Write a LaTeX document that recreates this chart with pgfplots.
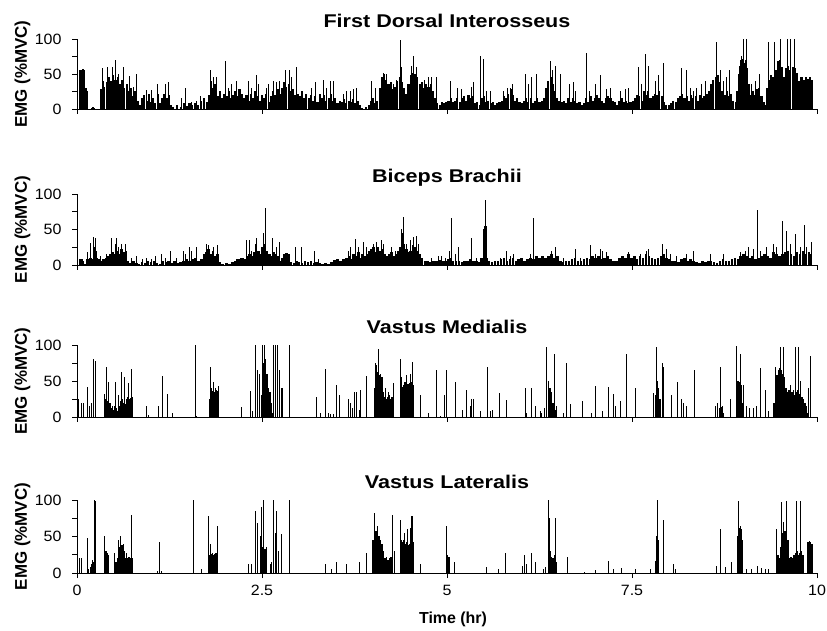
\documentclass[border=0pt]{standalone}
\usepackage{pgfplots}
\pgfplotsset{compat=1.18}
\usepackage{fontspec}
\setmainfont{Liberation Sans}[FakeStretch=1.07]
\newfontfamily\titlefont{Liberation Sans}[FakeStretch=1.17]
\newfontfamily\labelfont{Liberation Sans}

\pgfplotsset{
  emg/.style={
    scale only axis, width=740bp,
    xmin=0, xmax=10, ymin=0, ymax=100,
    axis x line*=bottom, axis y line*=left,
    axis line style={black, line width=0.8bp},
    tick style={black, line width=0.8bp},
    tick align=outside, major tick length=5bp,
    ytick={0,25,50,75,100}, yticklabels={0,,50,,100},
    xtick={0,2.5,5,7.5,10}, xticklabels={},
    ticklabel style={font=\fontsize{15}{17}\selectfont},
    yticklabel style={xshift=-7bp},
    ylabel={EMG (\%MVC)},
    % the label is turned by 90 degrees, so its own y direction points left
    ylabel style={font=\labelfont\fontsize{17}{20}\selectfont\bfseries,
      at={(axis description cs:0,0.5)}, anchor=base, yshift=50bp},
    title style={font=\titlefont\fontsize{18.5}{22}\selectfont\bfseries,
      at={(axis description cs:0.5,1)}, anchor=base, yshift=6bp},
    anchor=south west,
  },
  body/.style={ycomb, black, line width=#1, no marks},
  body/.default=1.5bp,
  spike/.style={ycomb, black, line width=0.8bp, no marks},
}

\begin{document}
\begin{tikzpicture}
\path[use as bounding box] (0,0) rectangle (827bp,631bp);

% ---------------- First Dorsal Interosseus ----------------
\begin{axis}[emg, at={(77bp,522bp)}, height=70bp, title={First Dorsal Interosseus}]
\addplot[body=2.1bp] table[row sep=\\] {
0.00 0\\ 0.03 0\\ 0.035 56\\ 0.05 50\\ 0.06 52\\ 0.07 55\\ 0.08 57\\ 0.09 50\\ 0.10 55\\ 0.115 30\\ 0.135 25\\ 0.14 2\\ 0.20 1\\ 0.22 3\\ 0.23 1\\ 0.32 1\\
0.33 28\\ 0.35 40\\ 0.37 32\\ 0.40 38\\ 0.43 45\\ 0.46 40\\ 0.49 48\\ 0.52 42\\ 0.55 45\\ 0.58 35\\ 0.61 42\\ 0.64 30\\ 0.67 36\\
0.70 25\\ 0.73 30\\ 0.76 18\\ 0.79 26\\ 0.82 12\\ 0.85 6\\ 0.88 15\\ 0.91 20\\ 0.94 12\\ 0.97 22\\ 1.00 10\\ 1.03 15\\ 1.06 8\\
1.09 22\\ 1.12 8\\ 1.15 15\\ 1.18 22\\ 1.21 15\\ 1.24 20\\ 1.27 6\\ 1.30 3\\ 1.35 5\\ 1.40 3\\ 1.44 8\\ 1.48 4\\ 1.52 8\\ 1.56 5\\
1.60 8\\ 1.64 6\\ 1.68 12\\ 1.72 15\\ 1.76 10\\ 1.79 20\\ 1.81 40\\ 1.84 30\\ 1.87 35\\ 1.90 18\\ 1.93 25\\ 1.96 15\\ 1.99 22\\
2.02 18\\ 2.05 25\\ 2.08 15\\ 2.11 20\\ 2.14 25\\ 2.17 18\\ 2.20 28\\ 2.23 22\\ 2.26 15\\ 2.29 20\\ 2.32 12\\ 2.35 22\\ 2.38 15\\
2.41 25\\ 2.44 18\\ 2.47 12\\ 2.50 20\\ 2.53 15\\ 2.56 22\\ 2.59 10\\ 2.62 18\\ 2.65 25\\ 2.68 20\\ 2.71 28\\ 2.74 22\\ 2.77 30\\
2.80 38\\ 2.83 32\\ 2.86 35\\ 2.89 25\\ 2.92 28\\ 2.95 20\\ 2.98 22\\ 3.01 18\\ 3.04 25\\ 3.07 15\\ 3.10 22\\ 3.13 15\\ 3.16 20\\
3.19 12\\ 3.22 18\\ 3.25 10\\ 3.28 22\\ 3.31 15\\ 3.34 20\\ 3.37 12\\ 3.40 15\\ 3.43 22\\ 3.46 12\\ 3.49 15\\ 3.52 8\\ 3.55 12\\
3.58 10\\ 3.61 14\\ 3.64 8\\ 3.67 12\\ 3.70 10\\ 3.73 14\\ 3.76 8\\ 3.79 12\\ 3.82 6\\ 3.85 2\\ 3.90 3\\ 3.94 6\\ 3.97 12\\
4.00 15\\ 4.03 8\\ 4.06 12\\ 4.09 30\\ 4.12 45\\ 4.15 50\\ 4.18 42\\ 4.21 35\\ 4.24 38\\ 4.27 28\\ 4.30 32\\ 4.33 40\\ 4.36 45\\
4.39 38\\ 4.42 30\\ 4.45 22\\ 4.48 35\\ 4.51 48\\ 4.54 52\\ 4.57 50\\ 4.60 45\\ 4.63 35\\ 4.66 38\\ 4.69 30\\ 4.72 36\\ 4.75 32\\
4.78 35\\ 4.81 25\\ 4.84 15\\ 4.87 8\\ 4.90 6\\ 4.93 10\\ 4.96 8\\ 4.99 10\\ 5.02 12\\ 5.05 15\\ 5.08 10\\ 5.11 12\\ 5.14 15\\
5.17 10\\ 5.20 15\\ 5.23 18\\ 5.26 12\\ 5.29 20\\ 5.32 15\\ 5.35 18\\ 5.38 8\\ 5.41 10\\ 5.44 6\\ 5.47 15\\ 5.50 18\\ 5.53 10\\
5.56 12\\ 5.59 8\\ 5.62 10\\ 5.65 6\\ 5.68 8\\ 5.71 10\\ 5.74 12\\ 5.77 18\\ 5.80 15\\ 5.83 22\\ 5.86 28\\ 5.89 20\\ 5.92 12\\
5.95 15\\ 5.98 10\\ 6.01 8\\ 6.04 12\\ 6.07 15\\ 6.10 10\\ 6.13 15\\ 6.16 8\\ 6.19 12\\ 6.22 15\\ 6.25 10\\ 6.28 12\\ 6.31 15\\
6.34 30\\ 6.37 40\\ 6.40 45\\ 6.43 35\\ 6.46 25\\ 6.49 15\\ 6.52 12\\ 6.55 10\\ 6.58 12\\ 6.61 8\\ 6.64 15\\ 6.67 10\\ 6.70 15\\
6.73 12\\ 6.76 8\\ 6.79 10\\ 6.82 6\\ 6.85 8\\ 6.88 15\\ 6.91 10\\ 6.94 18\\ 6.97 12\\ 7.00 15\\ 7.03 20\\ 7.06 15\\ 7.09 12\\
7.12 8\\ 7.15 15\\ 7.18 18\\ 7.21 15\\ 7.24 12\\ 7.27 10\\ 7.30 6\\ 7.33 12\\ 7.36 15\\ 7.39 10\\ 7.42 12\\ 7.45 8\\ 7.48 10\\
7.51 12\\ 7.54 15\\ 7.57 20\\ 7.60 18\\ 7.63 12\\ 7.66 25\\ 7.69 20\\ 7.72 25\\ 7.75 15\\ 7.78 18\\ 7.81 22\\ 7.84 20\\ 7.87 25\\
7.90 18\\ 7.93 10\\ 7.96 6\\ 8.00 5\\ 8.03 8\\ 8.06 12\\ 8.09 10\\ 8.12 15\\ 8.15 18\\ 8.18 22\\ 8.21 15\\ 8.24 18\\ 8.27 12\\
8.30 20\\ 8.33 15\\ 8.36 18\\ 8.39 12\\ 8.42 20\\ 8.45 15\\ 8.48 18\\ 8.51 22\\ 8.54 25\\ 8.57 35\\ 8.60 42\\ 8.63 45\\ 8.66 48\\
8.69 38\\ 8.72 25\\ 8.75 20\\ 8.78 25\\ 8.81 18\\ 8.84 22\\ 8.87 12\\ 8.90 10\\ 8.92 25\\ 8.94 50\\ 8.96 62\\ 8.98 70\\ 9.00 72\\
9.02 65\\ 9.04 70\\ 9.06 58\\ 9.08 35\\ 9.10 20\\ 9.13 25\\ 9.16 20\\ 9.19 28\\ 9.22 30\\ 9.25 18\\ 9.28 10\\ 9.30 6\\ 9.32 30\\
9.35 42\\ 9.38 48\\ 9.41 45\\ 9.44 55\\ 9.47 68\\ 9.50 70\\ 9.52 60\\ 9.54 25\\ 9.56 45\\ 9.58 58\\ 9.61 62\\ 9.64 55\\ 9.67 60\\
9.70 58\\ 9.73 52\\ 9.76 40\\ 9.79 45\\ 9.82 42\\ 9.85 46\\ 9.88 43\\ 9.91 45\\ 9.93 42\\ 9.94 0\\
};
\addplot[spike] table[row sep=\\] {
0.347 58\\ 0.414 60\\ 0.482 60\\ 0.523 70\\ 0.559 50\\ 0.626 60\\ 0.707 47\\ 0.761 32\\ 0.806 50\\ 0.941 27\\ 1.009 27\\
1.086 35\\ 1.189 36\\ 1.234 38\\ 1.414 15\\ 1.464 30\\ 1.550 10\\ 1.617 12\\ 1.662 18\\ 1.806 55\\ 1.842 45\\ 1.887 45\\
2.009 68\\ 2.045 30\\ 2.090 35\\ 2.149 40\\ 2.180 28\\ 2.315 40\\ 2.360 30\\ 2.428 48\\ 2.450 35\\ 2.563 30\\ 2.586 35\\
2.653 40\\ 2.698 38\\ 2.734 40\\ 2.811 55\\ 2.869 55\\ 2.901 45\\ 2.968 60\\ 3.171 30\\ 3.216 38\\ 3.329 42\\ 3.374 30\\
3.419 40\\ 3.464 40\\ 3.599 22\\ 3.644 25\\ 3.689 26\\ 3.734 28\\ 3.779 30\\ 3.982 40\\ 4.027 30\\ 4.140 52\\ 4.185 50\\
4.275 35\\ 4.320 42\\ 4.365 98\\ 4.390 60\\ 4.523 62\\ 4.545 76\\ 4.590 60\\ 4.700 42\\ 4.750 45\\ 4.790 45\\ 4.850 45\\
5.050 40\\ 5.140 30\\ 5.200 28\\ 5.330 32\\ 5.360 38\\ 5.455 75\\ 5.490 72\\ 5.530 25\\ 5.590 25\\ 5.760 25\\ 5.810 30\\
5.850 30\\ 5.890 35\\ 6.054 50\\ 6.100 35\\ 6.140 45\\ 6.210 50\\ 6.400 68\\ 6.420 55\\ 6.460 62\\ 6.530 50\\ 6.660 35\\
6.710 38\\ 6.730 25\\ 6.887 80\\ 6.930 25\\ 7.000 35\\ 7.070 48\\ 7.160 28\\ 7.210 30\\ 7.340 25\\ 7.410 28\\ 7.450 30\\
7.586 60\\ 7.630 35\\ 7.676 78\\ 7.720 62\\ 7.810 40\\ 7.860 48\\ 7.920 65\\ 8.170 58\\ 8.230 55\\ 8.290 30\\ 8.330 25\\
8.370 30\\ 8.440 35\\ 8.490 40\\ 8.645 95\\ 8.690 55\\ 8.730 40\\ 8.780 45\\ 8.820 55\\ 8.980 75\\ 9.005 100\\ 9.040 100\\
9.120 35\\ 9.170 40\\ 9.220 50\\ 9.340 95\\ 9.430 95\\ 9.500 100\\ 9.600 100\\ 9.635 100\\ 9.670 60\\ 9.700 100\\
};
\end{axis}

% ---------------- Biceps Brachii ----------------
\begin{axis}[emg, at={(77bp,366bp)}, height=71bp, title={Biceps Brachii}]
\addplot[body=2.6bp] table[row sep=\\] {
0.00 0\\ 0.03 0\\ 0.04 8\\ 0.06 9\\ 0.08 6\\ 0.10 1\\ 0.13 1\\ 0.14 8\\ 0.16 6\\ 0.18 10\\ 0.21 8\\ 0.23 25\\ 0.25 18\\ 0.27 10\\ 0.30 8\\
0.33 6\\ 0.36 8\\ 0.39 10\\ 0.42 12\\ 0.45 15\\ 0.48 18\\ 0.51 15\\ 0.54 20\\ 0.57 15\\ 0.60 22\\ 0.63 18\\ 0.66 20\\ 0.68 5\\
0.72 3\\ 0.76 5\\ 0.80 3\\ 0.84 2\\ 0.88 4\\ 0.92 3\\ 0.96 5\\ 1.00 4\\ 1.04 6\\ 1.08 3\\ 1.12 2\\ 1.16 5\\ 1.20 4\\ 1.24 6\\
1.28 3\\ 1.32 5\\ 1.36 3\\ 1.40 4\\ 1.44 6\\ 1.48 8\\ 1.52 5\\ 1.56 8\\ 1.60 10\\ 1.64 6\\ 1.68 8\\ 1.72 15\\ 1.75 18\\ 1.78 22\\
1.81 15\\ 1.84 20\\ 1.87 12\\ 1.90 15\\ 1.93 4\\ 1.97 2\\ 2.02 3\\ 2.06 2\\ 2.10 4\\ 2.14 6\\ 2.18 8\\ 2.22 10\\ 2.26 8\\ 2.30 12\\
2.33 15\\ 2.36 12\\ 2.39 18\\ 2.42 22\\ 2.45 20\\ 2.48 15\\ 2.51 25\\ 2.54 30\\ 2.57 20\\ 2.60 15\\ 2.63 12\\ 2.66 18\\ 2.69 15\\
2.72 12\\ 2.75 6\\ 2.78 10\\ 2.80 15\\ 2.83 17\\ 2.86 16\\ 2.89 4\\ 2.93 3\\ 2.97 5\\ 3.00 4\\ 3.04 3\\ 3.08 5\\ 3.12 4\\ 3.16 6\\
3.20 3\\ 3.24 4\\ 3.28 3\\ 3.32 2\\ 3.36 3\\ 3.40 2\\ 3.44 4\\ 3.48 7\\ 3.52 8\\ 3.56 6\\ 3.60 8\\ 3.64 10\\ 3.68 12\\ 3.71 8\\
3.74 15\\ 3.77 12\\ 3.80 18\\ 3.83 10\\ 3.86 15\\ 3.89 12\\ 3.92 16\\ 3.95 20\\ 3.98 22\\ 4.01 25\\ 4.04 18\\ 4.07 25\\ 4.10 20\\
4.13 22\\ 4.16 15\\ 4.19 12\\ 4.22 15\\ 4.25 18\\ 4.28 12\\ 4.31 15\\ 4.34 20\\ 4.37 25\\ 4.40 45\\ 4.42 30\\ 4.45 22\\ 4.48 18\\
4.51 20\\ 4.54 28\\ 4.57 25\\ 4.60 20\\ 4.63 15\\ 4.66 10\\ 4.70 5\\ 4.74 6\\ 4.78 4\\ 4.82 6\\ 4.86 5\\ 4.90 7\\ 4.94 5\\ 4.98 6\\
5.02 8\\ 5.05 10\\ 5.08 6\\ 5.12 5\\ 5.16 6\\ 5.20 4\\ 5.24 5\\ 5.28 6\\ 5.32 8\\ 5.36 5\\ 5.40 6\\ 5.44 4\\ 5.47 10\\ 5.50 50\\
5.52 55\\ 5.54 10\\ 5.57 5\\ 5.61 4\\ 5.65 5\\ 5.69 6\\ 5.73 8\\ 5.77 10\\ 5.81 6\\ 5.85 8\\ 5.89 10\\ 5.93 6\\ 5.97 8\\ 6.01 10\\
6.05 6\\ 6.09 8\\ 6.13 10\\ 6.17 8\\ 6.21 12\\ 6.25 10\\ 6.29 12\\ 6.33 10\\ 6.37 12\\ 6.41 15\\ 6.45 10\\ 6.49 12\\ 6.53 6\\
6.57 4\\ 6.61 5\\ 6.65 6\\ 6.69 8\\ 6.73 10\\ 6.77 6\\ 6.81 5\\ 6.85 8\\ 6.89 10\\ 6.93 8\\ 6.97 12\\ 7.01 10\\ 7.05 12\\ 7.09 8\\
7.13 10\\ 7.17 12\\ 7.21 8\\ 7.25 6\\ 7.29 5\\ 7.33 10\\ 7.37 12\\ 7.41 10\\ 7.45 15\\ 7.49 10\\ 7.53 12\\ 7.57 8\\ 7.61 12\\
7.65 10\\ 7.69 15\\ 7.73 12\\ 7.77 10\\ 7.81 8\\ 7.85 10\\ 7.89 12\\ 7.93 15\\ 7.97 10\\ 8.01 8\\ 8.05 5\\ 8.09 6\\ 8.13 4\\
8.17 8\\ 8.21 10\\ 8.25 6\\ 8.29 8\\ 8.33 6\\ 8.37 4\\ 8.41 3\\ 8.45 5\\ 8.49 4\\ 8.53 6\\ 8.57 5\\ 8.61 4\\ 8.65 3\\ 8.69 5\\
8.73 8\\ 8.77 6\\ 8.81 5\\ 8.85 8\\ 8.89 10\\ 8.93 8\\ 8.97 12\\ 9.01 15\\ 9.05 12\\ 9.09 10\\ 9.13 12\\ 9.17 8\\ 9.21 10\\
9.25 12\\ 9.29 15\\ 9.33 12\\ 9.37 10\\ 9.41 18\\ 9.45 15\\ 9.49 12\\ 9.53 15\\ 9.57 18\\ 9.61 20\\ 9.65 15\\ 9.69 12\\ 9.73 18\\
9.77 15\\ 9.81 20\\ 9.85 15\\ 9.89 18\\ 9.92 15\\ 9.94 0\\
};
\addplot[spike] table[row sep=\\] {
0.140 19\\ 0.176 31\\ 0.221 40\\ 0.250 38\\ 0.266 20\\ 0.311 12\\ 0.401 15\\ 0.468 38\\ 0.514 30\\ 0.536 38\\ 0.559 25\\
0.604 30\\ 0.649 30\\ 0.739 10\\ 0.797 12\\ 0.887 8\\ 0.941 10\\ 1.009 8\\ 1.054 12\\ 1.144 15\\ 1.189 10\\ 1.257 20\\
1.347 10\\ 1.437 20\\ 1.459 15\\ 1.518 25\\ 1.550 20\\ 1.608 25\\ 1.752 30\\ 1.775 28\\ 1.842 25\\ 1.896 28\\ 2.158 8\\
2.248 10\\ 2.284 35\\ 2.329 35\\ 2.360 20\\ 2.405 30\\ 2.428 38\\ 2.518 45\\ 2.541 80\\ 2.644 38\\ 2.689 25\\ 2.734 32\\
2.946 25\\ 3.036 25\\ 3.203 20\\ 3.261 8\\ 3.667 20\\ 3.689 25\\ 3.757 36\\ 3.802 25\\ 3.869 33\\ 3.914 25\\ 4.005 30\\
4.050 33\\ 4.117 35\\ 4.140 30\\ 4.252 25\\ 4.297 20\\ 4.387 50\\ 4.410 67\\ 4.455 30\\ 4.500 35\\ 4.545 40\\ 4.581 41\\
4.613 30\\ 4.793 10\\ 4.883 12\\ 4.928 12\\ 4.973 10\\ 5.032 20\\ 5.063 66\\ 5.108 15\\ 5.153 25\\ 5.324 38\\ 5.401 10\\
5.514 91\\ 5.527 40\\ 5.716 10\\ 5.806 20\\ 5.851 12\\ 5.896 15\\ 6.122 15\\ 6.167 66\\ 6.212 12\\ 6.415 20\\ 6.459 25\\
6.572 10\\ 6.730 22\\ 6.797 10\\ 6.942 28\\ 7.000 15\\ 7.068 22\\ 7.099 20\\ 7.158 18\\ 7.451 18\\ 7.608 15\\ 7.698 20\\
7.721 22\\ 7.915 30\\ 7.969 22\\ 8.014 15\\ 8.104 12\\ 8.239 15\\ 8.329 20\\ 8.554 15\\ 8.734 15\\ 8.959 18\\ 9.027 20\\
9.072 25\\ 9.140 22\\ 9.194 77\\ 9.230 20\\ 9.320 25\\ 9.410 30\\ 9.455 25\\ 9.536 62\\ 9.590 48\\ 9.635 30\\ 9.703 43\\
9.770 25\\ 9.824 57\\ 9.860 25\\ 9.928 33\\
};
\end{axis}

% ---------------- Vastus Medialis ----------------
\begin{axis}[emg, at={(77bp,214bp)}, height=72bp, title={Vastus Medialis}]
\addplot[body] table[row sep=\\] {
0.00 0\\ 0.36 0\\ 0.37 12\\ 0.39 25\\ 0.41 22\\ 0.43 20\\ 0.45 18\\ 0.47 12\\ 0.49 10\\ 0.51 15\\ 0.53 12\\ 0.55 8\\ 0.57 15\\
0.59 22\\ 0.61 25\\ 0.63 20\\ 0.65 18\\ 0.67 25\\ 0.69 28\\ 0.71 25\\ 0.73 27\\ 0.75 20\\ 0.76 0\\ 1.79 0\\ 1.80 25\\ 1.82 40\\
1.84 36\\ 1.85 35\\ 1.87 40\\ 1.88 38\\ 1.90 36\\ 1.91 35\\ 1.92 0\\ 2.48 0\\ 2.49 30\\ 2.51 55\\ 2.53 75\\ 2.55 70\\ 2.57 60\\ 2.59 40\\ 2.61 35\\ 2.63 20\\
2.65 5\\ 2.66 0\\ 4.01 0\\ 4.02 40\\ 4.04 65\\ 4.06 62\\ 4.08 58\\ 4.10 60\\ 4.12 55\\ 4.14 35\\ 4.16 28\\ 4.18 25\\ 4.20 28\\
4.22 30\\ 4.24 25\\ 4.26 28\\ 4.28 5\\ 4.36 0\\ 4.37 35\\ 4.39 42\\ 4.41 45\\ 4.43 48\\ 4.45 45\\ 4.47 46\\ 4.49 47\\ 4.51 50\\
4.53 48\\ 4.55 45\\ 4.57 0\\ 6.36 0\\ 6.37 20\\ 6.39 40\\ 6.41 35\\ 6.43 20\\ 6.45 25\\ 6.47 10\\ 6.48 0\\ 7.81 0\\ 7.82 30\\
7.84 50\\ 7.86 40\\ 7.88 25\\ 7.89 0\\ 8.67 0\\ 8.68 12\\ 8.70 14\\ 8.72 15\\ 8.73 0\\ 8.90 0\\ 8.91 40\\ 8.93 50\\ 8.95 48\\ 8.97 45\\
8.99 20\\ 9.00 0\\ 9.40 0\\ 9.42 20\\ 9.44 40\\ 9.46 58\\ 9.48 65\\ 9.50 68\\ 9.52 65\\ 9.54 60\\ 9.56 55\\ 9.58 40\\ 9.60 35\\
9.62 38\\ 9.64 32\\ 9.66 35\\ 9.68 38\\ 9.70 30\\ 9.72 35\\ 9.74 38\\ 9.76 32\\ 9.78 30\\ 9.80 28\\ 9.82 25\\ 9.84 20\\ 9.86 15\\
9.88 5\\ 9.90 0\\ 9.94 0\\
};
\addplot[spike] table[row sep=\\] {
0.018 25\\ 0.054 20\\ 0.090 20\\ 0.140 42\\ 0.167 15\\ 0.198 20\\ 0.221 81\\ 0.243 78\\ 0.369 32\\ 0.392 70\\ 0.423 48\\
0.446 20\\ 0.482 15\\ 0.514 48\\ 0.536 10\\ 0.559 30\\ 0.604 62\\ 0.635 55\\ 0.662 10\\ 0.694 47\\ 0.730 67\\ 0.748 28\\
0.941 15\\ 0.964 3\\ 1.099 15\\ 1.158 57\\ 1.225 32\\ 1.288 5\\ 1.595 100\\ 1.617 2\\ 1.797 70\\ 1.842 48\\ 1.910 43\\
2.225 14\\ 2.347 36\\ 2.369 8\\ 2.405 100\\ 2.437 65\\ 2.464 60\\ 2.509 100\\ 2.532 100\\ 2.550 80\\ 2.653 100\\ 2.676 100\\
2.707 100\\ 2.734 65\\ 2.757 40\\ 2.779 40\\ 2.869 100\\ 3.230 28\\ 3.284 5\\ 3.351 67\\ 3.396 5\\ 3.428 4\\ 3.464 4\\
3.509 45\\ 3.545 30\\ 3.667 25\\ 3.689 20\\ 3.725 12\\ 3.743 35\\ 3.779 35\\ 3.815 10\\ 3.833 37\\ 3.905 57\\ 4.027 75\\
4.041 72\\ 4.072 94\\ 4.162 40\\ 4.207 35\\ 4.275 47\\ 4.365 80\\ 4.387 55\\ 4.455 58\\ 4.500 60\\ 4.536 77\\ 4.644 30\\
4.748 5\\ 4.860 65\\ 4.905 2\\ 4.959 30\\ 4.996 65\\ 5.108 48\\ 5.212 10\\ 5.266 38\\ 5.311 15\\ 5.333 25\\ 5.356 25\\
5.446 8\\ 5.545 70\\ 5.581 8\\ 5.617 10\\ 5.707 33\\ 5.797 23\\ 6.054 40\\ 6.077 5\\ 6.144 40\\ 6.189 15\\ 6.257 8\\
6.279 5\\ 6.315 12\\ 6.347 97\\ 6.369 50\\ 6.415 20\\ 6.446 88\\ 6.473 15\\ 6.572 5\\ 6.617 75\\ 6.671 18\\ 6.833 22\\
6.955 5\\ 7.000 43\\ 7.104 8\\ 7.180 42\\ 7.248 32\\ 7.270 15\\ 7.338 22\\ 7.419 87\\ 7.541 40\\ 7.788 33\\ 7.824 97\\
7.847 45\\ 7.905 75\\ 7.923 70\\ 8.036 30\\ 8.113 48\\ 8.171 25\\ 8.194 20\\ 8.239 15\\ 8.338 65\\ 8.622 15\\ 8.653 20\\
8.689 70\\ 8.734 5\\ 8.833 25\\ 8.915 98\\ 8.968 88\\ 9.005 45\\ 9.050 15\\ 9.086 12\\ 9.140 12\\ 9.185 15\\ 9.230 68\\
9.297 37\\ 9.342 8\\ 9.432 70\\ 9.500 97\\ 9.545 97\\ 9.635 45\\ 9.703 97\\ 9.748 97\\ 9.770 50\\ 9.883 40\\ 9.905 85\\
};
\end{axis}

% ---------------- Vastus Lateralis ----------------
\begin{axis}[emg, at={(77bp,58bp)}, height=73bp, title={Vastus Lateralis},
  xticklabels={0,2.5,5,7.5,10},
  xticklabel style={anchor=base, yshift=-17bp},
  xlabel={Time (hr)},
  xlabel style={font=\labelfont\fontsize{16}{19}\selectfont\bfseries,
    at={(axis description cs:0.5,0)}, anchor=base, yshift=-50bp, xshift=6bp}]
\addplot[body] table[row sep=\\] {
0.00 0\\ 0.17 0\\ 0.18 8\\ 0.20 12\\ 0.22 15\\ 0.23 0\\ 0.38 0\\ 0.39 30\\ 0.41 28\\ 0.42 25\\ 0.43 0\\ 0.50 0\\ 0.51 18\\
0.53 15\\ 0.55 20\\ 0.57 35\\ 0.59 40\\ 0.61 38\\ 0.63 40\\ 0.64 25\\ 0.66 20\\ 0.68 20\\ 0.70 22\\ 0.72 20\\ 0.74 20\\ 0.75 0\\
1.79 0\\ 1.80 25\\ 1.82 26\\ 1.83 27\\ 1.85 25\\ 1.86 26\\ 1.88 27\\ 1.89 25\\ 1.90 0\\ 2.47 0\\ 2.48 25\\ 2.50 35\\ 2.52 35\\ 2.54 33\\ 2.56 35\\ 2.57 0\\
3.99 0\\ 4.00 45\\ 4.02 60\\ 4.04 58\\ 4.06 55\\ 4.08 50\\ 4.10 45\\ 4.12 40\\ 4.14 30\\ 4.16 20\\ 4.18 22\\ 4.20 18\\ 4.22 20\\
4.24 22\\ 4.26 20\\ 4.28 0\\ 4.37 0\\ 4.38 45\\ 4.40 42\\ 4.42 45\\ 4.44 40\\ 4.46 42\\ 4.48 38\\ 4.50 40\\ 4.52 45\\ 4.54 42\\
4.55 0\\ 4.99 0\\ 5.00 25\\ 5.01 20\\ 5.03 22\\ 5.04 0\\ 6.36 0\\ 6.37 40\\ 6.39 30\\ 6.41 22\\ 6.43 20\\ 6.45 25\\ 6.47 15\\ 6.48 0\\
7.83 0\\ 7.84 50\\ 7.86 45\\ 7.87 0\\ 8.92 0\\ 8.93 50\\ 8.95 62\\ 8.97 60\\ 8.99 45\\ 9.00 0\\ 9.44 0\\ 9.45 20\\ 9.47 25\\
9.49 20\\ 9.51 35\\ 9.53 55\\ 9.55 60\\ 9.57 58\\ 9.59 55\\ 9.61 45\\ 9.63 20\\ 9.65 22\\ 9.67 20\\ 9.69 25\\ 9.71 28\\ 9.73 30\\
9.75 25\\ 9.77 28\\ 9.79 30\\ 9.81 25\\ 9.82 0\\ 9.87 0\\ 9.88 42\\ 9.90 44\\ 9.91 43\\ 9.93 40\\ 9.94 0\\
};
\addplot[spike] table[row sep=\\] {
0.032 20\\ 0.054 20\\ 0.135 48\\ 0.158 5\\ 0.212 18\\ 0.234 100\\ 0.243 98\\ 0.369 50\\ 0.405 28\\ 0.505 28\\ 0.559 45\\
0.581 50\\ 0.640 30\\ 0.662 28\\ 0.730 80\\ 1.086 3\\ 1.113 43\\ 1.144 3\\ 1.572 100\\ 1.685 5\\ 1.775 78\\ 1.797 40\\
1.896 65\\ 2.315 12\\ 2.360 12\\ 2.405 85\\ 2.441 68\\ 2.473 50\\ 2.495 90\\ 2.518 100\\ 2.608 12\\ 2.631 15\\ 2.653 100\\
2.676 55\\ 2.698 85\\ 2.721 30\\ 2.757 53\\ 2.869 100\\ 3.351 12\\ 3.441 5\\ 3.500 15\\ 3.644 13\\ 3.815 15\\ 3.905 28\\
4.014 82\\ 4.063 65\\ 4.266 80\\ 4.288 30\\ 4.374 72\\ 4.419 55\\ 4.464 60\\ 4.500 62\\ 4.523 78\\ 4.536 78\\ 4.635 12\\
4.996 65\\ 5.095 15\\ 5.536 8\\ 5.694 5\\ 5.788 27\\ 6.023 10\\ 6.045 25\\ 6.068 12\\ 6.144 28\\ 6.189 15\\ 6.302 5\\
6.324 8\\ 6.365 100\\ 6.383 75\\ 6.469 75\\ 6.626 22\\ 6.856 2\\ 7.000 4\\ 7.180 17\\ 7.248 5\\ 7.351 7\\ 7.541 6\\
7.743 5\\ 7.811 17\\ 7.842 100\\ 7.923 72\\ 8.059 12\\ 8.081 5\\ 8.635 10\\ 8.698 60\\ 8.757 8\\ 8.838 15\\ 8.937 98\\
8.959 65\\ 9.050 6\\ 9.117 6\\ 9.194 10\\ 9.252 7\\ 9.297 5\\ 9.342 5\\ 9.446 60\\ 9.523 97\\ 9.545 70\\ 9.590 98\\
9.725 98\\ 9.770 98\\
};
\end{axis}
\end{tikzpicture}
\end{document}
